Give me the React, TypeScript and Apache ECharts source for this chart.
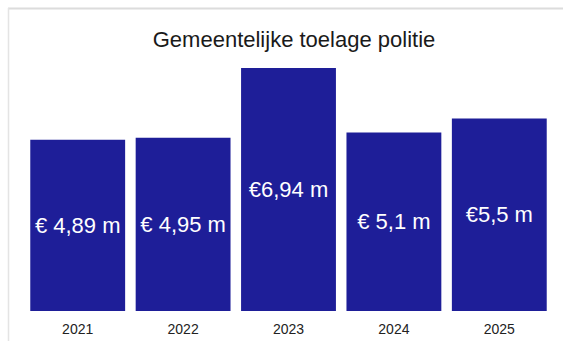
import React, { useEffect, useRef } from "react";
import * as echarts from "echarts";

const categories = ["2021", "2022", "2023", "2024", "2025"];
const values = [4.89, 4.95, 6.94, 5.1, 5.5];
const valueLabels = ["€ 4,89 m", "€ 4,95 m", "€6,94 m", "€ 5,1 m", "€5,5 m"];
const titleText = "Gemeentelijke toelage politie";

export default function App() {
  const ref = useRef<HTMLDivElement>(null);
  useEffect(() => {
    if (!ref.current) return;
    const chart = echarts.init(ref.current, undefined, { renderer: "svg" });
    chart.setOption({
      animation: false,
      backgroundColor: "#ffffff",
      title: {
        text: titleText,
        left: 289,
        textAlign: "center",
        top: 23,
        textStyle: {
          fontFamily: "Liberation Sans, Arial, sans-serif",
          fontSize: 22,
          fontWeight: "normal",
          color: "#1a1a1a",
        },
      },
      graphic: [
        { type: "line", shape: { x1: 8, y1: 8.5, x2: 563, y2: 8.5 }, style: { stroke: "#dcdcdc", lineWidth: 2 } },
        { type: "line", shape: { x1: 8.5, y1: 8, x2: 8.5, y2: 341 }, style: { stroke: "#e4e4e4", lineWidth: 1.5 } },
      ],
      grid: { left: 25, right: 11, top: 31, bottom: 30, containLabel: false },
      xAxis: {
        type: "category",
        data: categories,
        axisLine: { show: false },
        axisTick: { show: false },
        axisLabel: {
          margin: 11,
          fontFamily: "Liberation Sans, Arial, sans-serif",
          fontSize: 14,
          color: "#222",
        },
      },
      yAxis: {
        type: "value",
        min: 0,
        max: 8,
        show: false,
        splitLine: { show: false },
      },
      series: [
        {
          type: "bar",
          data: values,
          barCategoryGap: "10%",
          itemStyle: { color: "#1e1e98" },
          label: {
            show: true,
            position: "inside",
            color: "#ffffff",
            fontFamily: "Liberation Sans, Arial, sans-serif",
            fontSize: 22,
            formatter: (p: any) => valueLabels[p.dataIndex],
          },
        },
      ],
    });
    return () => chart.dispose();
  }, []);
  return <div ref={ref} style={{ width: 563, height: 341, position: "absolute", left: 0, top: 0 }} />;
}
